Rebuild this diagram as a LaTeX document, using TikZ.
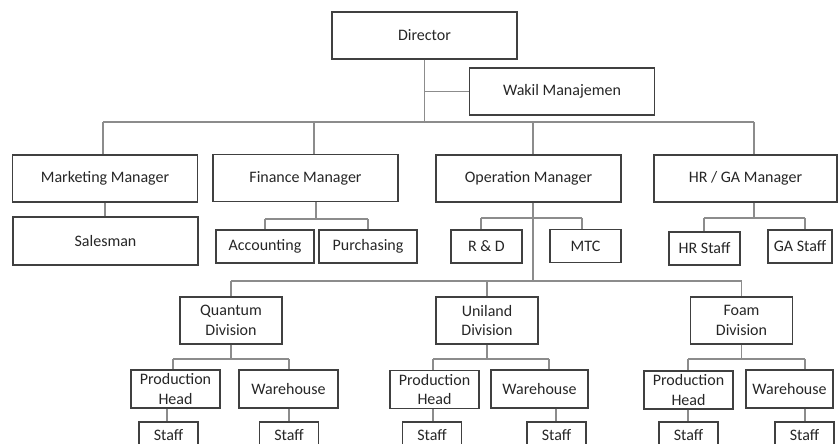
\documentclass[tikz,border=0pt]{standalone}
\usepackage{fontspec}
\setmainfont{Carlito}
\begin{document}
\begin{tikzpicture}[x=0.02cm, y=-0.02cm, font=\fontsize{9.1}{11}\selectfont,
  box/.style={draw=black!75, line width=0.7pt, inner sep=0pt, text=black!85, align=center},
  mgr/.style={box, minimum width=3.7cm, minimum height=0.94cm},
  sub/.style={box, minimum height=0.66cm},
  div/.style={box, minimum width=2.04cm, minimum height=0.94cm},
  unit/.style={box, minimum height=0.76cm},
  staff/.style={box, minimum width=1.18cm, minimum height=0.52cm},
  link/.style={draw=black!45, line width=0.6pt}]
\useasboundingbox (0,0) rectangle (838,443);
\clip (0,0) rectangle (838,443);

% Top management
\node[mgr] (dir) at (424.5,35.5) {Director};
\node[mgr] (wak) at (562,91.5) {Wakil Manajemen};

% Managers
\node[mgr] (mkt) at (105,178.5) {Marketing Manager};
\node[mgr] (fin) at (305.5,178) {Finance Manager};
\node[mgr] (opr) at (528.5,178.5) {Operation Manager};
\node[mgr, minimum width=3.66cm] (hrga) at (745.5,178.5) {HR / GA Manager};

% Sections under managers
\node[mgr, minimum height=0.96cm] (sal) at (105.5,241) {Salesman};
\node[sub, minimum width=1.96cm] (acc) at (265,246.5) {Accounting};
\node[sub, minimum width=1.96cm] (pur) at (368,246.5) {Purchasing};
\node[sub, minimum width=1.42cm] (rnd) at (486.5,246.5) {R \& D};
\node[sub, minimum width=1.42cm] (mtc) at (585.5,246) {MTC};
\node[sub, minimum width=1.42cm] (hrs) at (704.5,248.5) {HR Staff};
\node[sub, minimum width=1.28cm] (gas) at (800,246.5) {GA Staff};

% Divisions
\node[div] (qua) at (231,320.5) {Quantum\\Division};
\node[div] (uni) at (487,320.5) {Uniland\\Division};
\node[div] (foa) at (741.5,320.5) {Foam\\Division};

% Division units
\node[unit, minimum width=1.78cm] (qua-ph) at (175.5,389) {Production\\Head};
\node[unit, minimum width=1.98cm] (qua-wh) at (288.5,389) {Warehouse};
\node[unit, minimum width=1.78cm] (uni-ph) at (434.5,389.5) {Production\\Head};
\node[unit, minimum width=1.94cm] (uni-wh) at (539.5,389) {Warehouse};
\node[unit, minimum width=1.78cm] (foa-ph) at (688.5,390) {Production\\Head};
\node[unit, minimum width=1.74cm] (foa-wh) at (789.5,389) {Warehouse};

% Staff
\node[staff] (qua-phs) at (168.5,435) {Staff};
\node[staff] (qua-whs) at (289,435) {Staff};
\node[staff] (uni-phs) at (432,435) {Staff};
\node[staff] (uni-whs) at (556.5,435) {Staff};
\node[staff] (foa-phs) at (688.5,435) {Staff};
\node[staff] (foa-whs) at (804.5,435) {Staff};

% Junctions
\coordinate (topbus) at (103,122);
\coordinate (finJ) at (314,122);
\coordinate (oprJ) at (533,122);
\coordinate (hrJ) at (754,122);
\coordinate (finbus) at (316,219);
\coordinate (rndJ) at (481,218);
\coordinate (mtcJ) at (582,218);
\coordinate (hrsJ) at (704,218);
\coordinate (gasJ) at (805,218);
\coordinate (divbus) at (533,281);

% Director and Wakil
\draw[link] (dir.south) -- (dir.south |- topbus);
\draw[link] (dir.south |- wak.west) -- (wak.west);

% Manager bus
\draw[link] (topbus) -- (hrJ);
\draw[link] (topbus) -- (topbus |- mkt.north);
\foreach \j/\n in {finJ/fin, oprJ/opr, hrJ/hrga}
  \draw[link] (\j) -- (\j |- \n.north);

% Manager sections
\draw[link] (mkt.south) -- (mkt.south |- sal.north);
\draw[link] (finbus |- fin.south) -- (finbus);
\draw[link] (acc.north |- finbus) -- (pur.north |- finbus);
\draw[link] (acc.north |- finbus) -- (acc.north);
\draw[link] (pur.north |- finbus) -- (pur.north);
\draw[link] (divbus |- opr.south) -- (divbus);
\draw[link] (rndJ) -- (mtcJ);
\draw[link] (rndJ) -- (rndJ |- rnd.north);
\draw[link] (mtcJ) -- (mtcJ |- mtc.north);
\draw[link] (hrJ |- hrga.south) -- (hrJ |- hrsJ);
\draw[link] (hrsJ) -- (gasJ);
\draw[link] (hrsJ) -- (hrsJ |- hrs.north);
\draw[link] (gasJ) -- (gasJ |- gas.north);

% Division bus
\draw[link] (qua.north |- divbus) -- (foa.north |- divbus);
\foreach \n in {qua, uni, foa}
  \draw[link] (\n.north |- divbus) -- (\n.north);

% Division subtrees
\foreach \d/\xa/\xb/\sa/\sb in {qua/173/289/167/289, uni/433/549/433/556, foa/688/805/688/805} {
  \draw[link] (\d.south) -- (\d.south |- 0,359);
  \draw[link] (\xa,359) -- (\xb,359);
  \draw[link] (\xa,359) -- (\xa,0 |- \d-ph.north);
  \draw[link] (\xb,359) -- (\xb,0 |- \d-wh.north);
  \draw[link] (\sa,0 |- \d-ph.south) -- (\sa,0 |- \d-phs.north);
  \draw[link] (\sb,0 |- \d-wh.south) -- (\sb,0 |- \d-whs.north);
}
\end{tikzpicture}
\end{document}
